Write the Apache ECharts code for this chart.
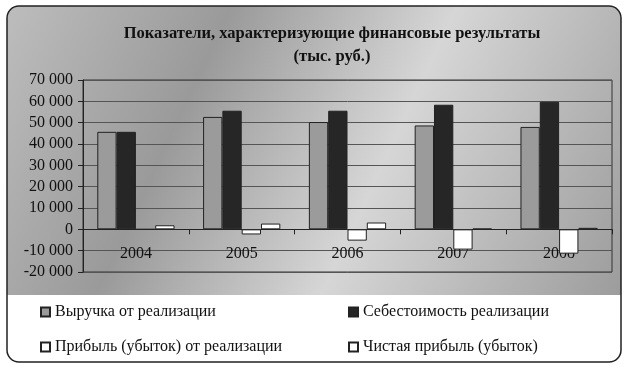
<!DOCTYPE html>
<html>
<head>
<meta charset="utf-8">
<script src="https://cdn.jsdelivr.net/npm/echarts@6/dist/echarts.min.js"></script>
<style>html,body{margin:0;padding:0;background:#fff}#c{width:628px;height:370px}</style>
</head>
<body>
<div id="c"></div>
<script>
var categories = ['2004', '2005', '2006', '2007', '2008'];
var revenue = [45700, 52700, 50300, 48700, 48000];
var cost = [45700, 55600, 55600, 58400, 59800];
var salesProfit = [0, -2400, -5300, -9500, -11400];
var netProfit = [1900, 2700, 3200, 300, 700];
var yTicks = [-20000, -10000, 0, 10000, 20000, 30000, 40000, 50000, 60000, 70000];
var seriesNames = ['Выручка от реализации', 'Себестоимость реализации', 'Прибыль (убыток) от реализации', 'Чистая прибыль (убыток)'];

var FONT = '"Liberation Serif", "DejaVu Serif", serif';
function fmt(v) {
  var s = Math.abs(v).toString().replace(/\B(?=(\d{3})+(?!\d))/g, ' ');
  return (v < 0 ? '-' : '') + s;
}
var yMin = yTicks[0], yMax = yTicks[yTicks.length - 1];
var gridTop = 80, gridBottom = 98, H = 370;
var gridH = H - gridTop - gridBottom;
var zeroOffset = -gridH * (0 - yMin) / (yMax - yMin);

var chart = echarts.init(document.getElementById('c'), null, {renderer: 'canvas'});
var legendText = {fontFamily: FONT, fontSize: 16, color: '#111'};
function lg(name, left, top) {
  return {data: [name], left: left, top: top, padding: 0, itemWidth: 9, itemHeight: 9, icon: 'rect',
    textStyle: legendText, selectedMode: false};
}
var option = {
  backgroundColor: '#fff',
  animation: false,
  graphic: [
    {type: 'rect', z: -10, silent: true, shape: {x: 7, y: 6, width: 614, height: 289, r: [12, 12, 0, 0]},
     style: {fill: new echarts.graphic.LinearGradient(0, 0, 1, 1, [
       {offset: 0, color: '#bdbdbd'}, {offset: 0.3, color: '#9a9a9a'}, {offset: 0.6, color: '#d6d6d6'}, {offset: 1, color: '#9c9c9c'}])}},
    {type: 'rect', z: 100, silent: true, shape: {x: 7, y: 6, width: 614, height: 356, r: 12},
     style: {fill: 'none', stroke: '#222', lineWidth: 1.5}}
  ],
  title: {
    text: 'Показатели, характеризующие финансовые результаты\n(тыс. руб.)',
    left: 327, top: 17, textAlign: 'center',
    textStyle: {fontFamily: FONT, fontSize: 16.5, fontWeight: 'bold', color: '#111', lineHeight: 23}
  },
  legend: [
    lg(seriesNames[0], 40, 304),
    lg(seriesNames[1], 348, 304),
    lg(seriesNames[2], 40, 339),
    lg(seriesNames[3], 348, 339)
  ],
  grid: {left: 83, right: 16, top: gridTop, bottom: gridBottom, show: true, borderColor: '#333', borderWidth: 1, backgroundColor: 'transparent'},
  xAxis: {
    type: 'category', data: categories,
    offset: zeroOffset,
    axisLine: {onZero: false, lineStyle: {color: '#222', width: 1}},
    axisTick: {show: true, inside: false, length: 5, alignWithLabel: false, lineStyle: {color: '#222'}},
    axisLabel: {fontFamily: FONT, fontSize: 16, color: '#111', margin: 16}
  },
  yAxis: {
    type: 'value', min: yMin, max: yMax, interval: 10000,
    axisLine: {show: true, lineStyle: {color: '#222'}},
    axisTick: {show: true, length: 5, lineStyle: {color: '#222'}},
    axisLabel: {fontFamily: FONT, fontSize: 16, color: '#111', margin: 10, formatter: function (v) { return fmt(v); }},
    splitLine: {show: true, lineStyle: {color: '#555', width: 1}}
  },
  series: [
    {name: seriesNames[0], type: 'bar', data: revenue, barGap: '0%', barCategoryGap: '27%',
     itemStyle: {color: '#9b9b9b', borderColor: '#222', borderWidth: 1}},
    {name: seriesNames[1], type: 'bar', data: cost,
     itemStyle: {color: '#262626', borderColor: '#222', borderWidth: 1}},
    {name: seriesNames[2], type: 'bar', data: salesProfit,
     itemStyle: {color: '#ffffff', borderColor: '#222', borderWidth: 1}},
    {name: seriesNames[3], type: 'bar', data: netProfit,
     itemStyle: {color: '#ffffff', borderColor: '#222', borderWidth: 1}}
  ]
};
chart.setOption(option);
</script>
</body>
</html>
